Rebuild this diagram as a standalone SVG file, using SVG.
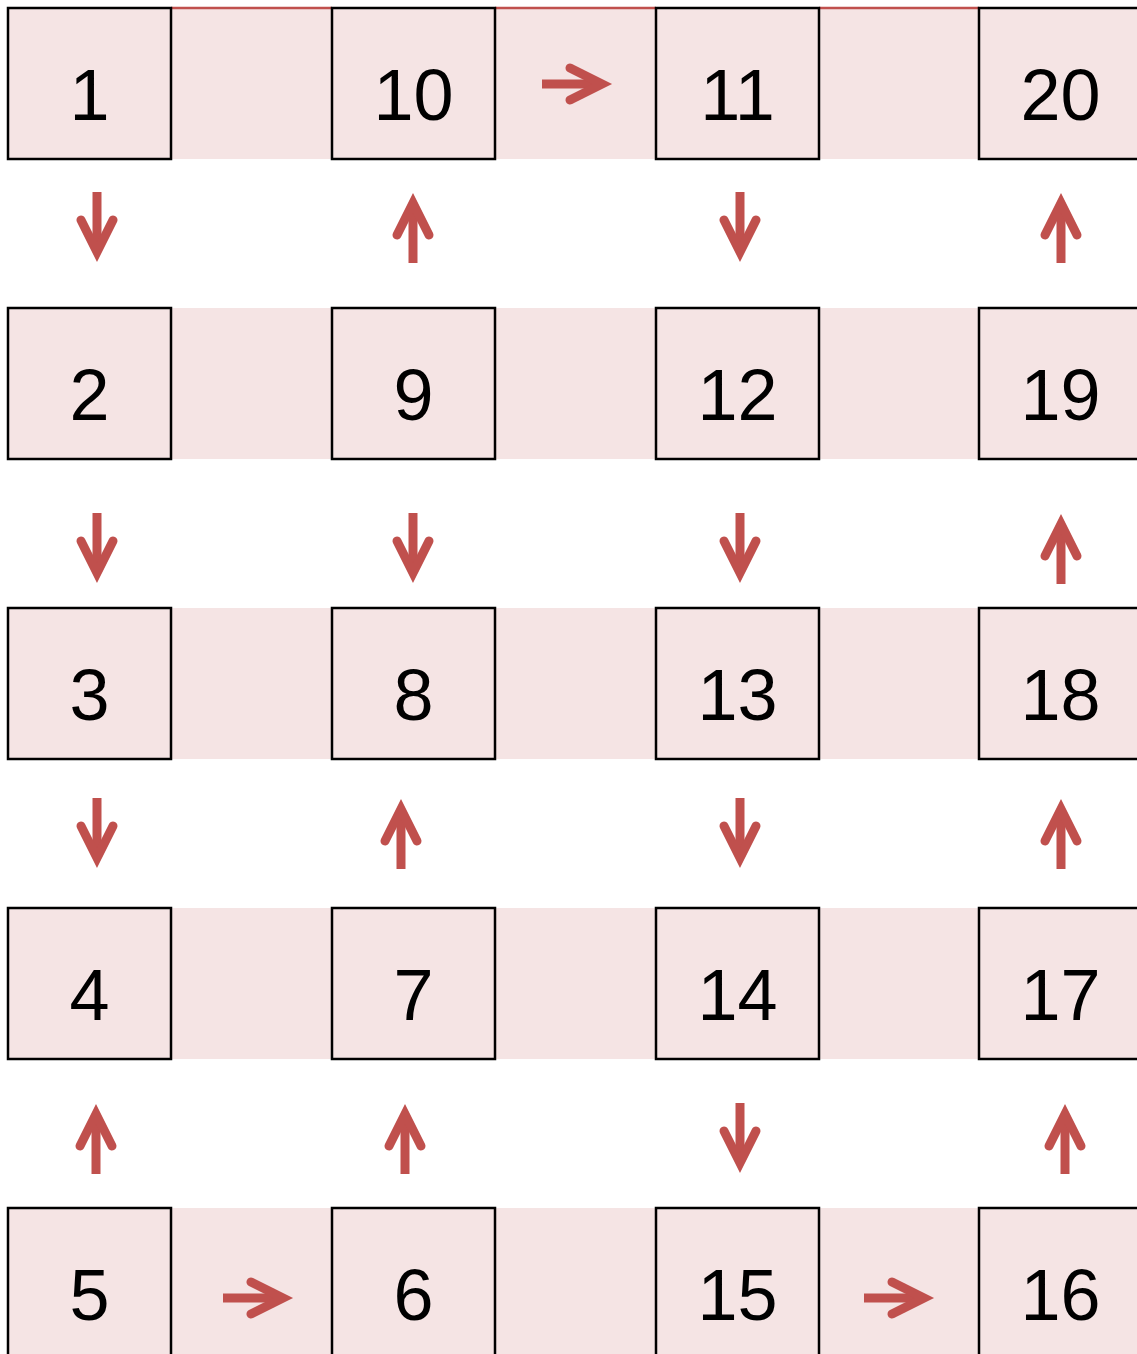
<svg xmlns="http://www.w3.org/2000/svg" xmlns:xlink="http://www.w3.org/1999/xlink" width="1137" height="1354" viewBox="0 0 1137 1354">
<style>
.band{fill:#f5e4e4}
.box{fill:#f5e4e4;stroke:#000;stroke-width:2.5}
.lbl{font-family:"Liberation Sans",Arial,sans-serif;font-size:72px;fill:#000;text-anchor:middle}
.arr{fill:none;stroke:#c0504d;stroke-width:9;stroke-linecap:round;stroke-linejoin:miter}
.top{stroke:#c0504d;stroke-width:2.5}
</style>
<defs>
<g id="ar">
<path class="arr" d="M0 0 H58" style="stroke-linecap:butt"/>
<path class="arr" d="M28 -16 L60 0 L28 16"/>
</g>
</defs>
<rect width="1137" height="1354" fill="#fff"/>
<g id="bands">
<rect class="band" x="8" y="8" width="1129" height="151"/>
<rect class="band" x="8" y="308" width="1129" height="151"/>
<rect class="band" x="8" y="608" width="1129" height="151"/>
<rect class="band" x="8" y="908" width="1129" height="151"/>
<rect class="band" x="8" y="1208" width="1129" height="151"/>
<line class="top" x1="171" y1="8" x2="332" y2="8"/>
<line class="top" x1="495" y1="8" x2="656" y2="8"/>
<line class="top" x1="819" y1="8" x2="979" y2="8"/>
</g>
<g id="n1"><rect class="box" x="8" y="8" width="163" height="151"/><text class="lbl" x="89.5" y="120">1</text></g>
<g id="n10"><rect class="box" x="332" y="8" width="163" height="151"/><text class="lbl" x="413.5" y="120">10</text></g>
<g id="n11"><rect class="box" x="656" y="8" width="163" height="151"/><text class="lbl" x="737.5" y="120">11</text></g>
<g id="n20"><rect class="box" x="979" y="8" width="163" height="151"/><text class="lbl" x="1060.5" y="120">20</text></g>
<g id="n2"><rect class="box" x="8" y="308" width="163" height="151"/><text class="lbl" x="89.5" y="420">2</text></g>
<g id="n9"><rect class="box" x="332" y="308" width="163" height="151"/><text class="lbl" x="413.5" y="420">9</text></g>
<g id="n12"><rect class="box" x="656" y="308" width="163" height="151"/><text class="lbl" x="737.5" y="420">12</text></g>
<g id="n19"><rect class="box" x="979" y="308" width="163" height="151"/><text class="lbl" x="1060.5" y="420">19</text></g>
<g id="n3"><rect class="box" x="8" y="608" width="163" height="151"/><text class="lbl" x="89.5" y="720">3</text></g>
<g id="n8"><rect class="box" x="332" y="608" width="163" height="151"/><text class="lbl" x="413.5" y="720">8</text></g>
<g id="n13"><rect class="box" x="656" y="608" width="163" height="151"/><text class="lbl" x="737.5" y="720">13</text></g>
<g id="n18"><rect class="box" x="979" y="608" width="163" height="151"/><text class="lbl" x="1060.5" y="720">18</text></g>
<g id="n4"><rect class="box" x="8" y="908" width="163" height="151"/><text class="lbl" x="89.5" y="1020">4</text></g>
<g id="n7"><rect class="box" x="332" y="908" width="163" height="151"/><text class="lbl" x="413.5" y="1020">7</text></g>
<g id="n14"><rect class="box" x="656" y="908" width="163" height="151"/><text class="lbl" x="737.5" y="1020">14</text></g>
<g id="n17"><rect class="box" x="979" y="908" width="163" height="151"/><text class="lbl" x="1060.5" y="1020">17</text></g>
<g id="n5"><rect class="box" x="8" y="1208" width="163" height="151"/><text class="lbl" x="89.5" y="1320">5</text></g>
<g id="n6"><rect class="box" x="332" y="1208" width="163" height="151"/><text class="lbl" x="413.5" y="1320">6</text></g>
<g id="n15"><rect class="box" x="656" y="1208" width="163" height="151"/><text class="lbl" x="737.5" y="1320">15</text></g>
<g id="n16"><rect class="box" x="979" y="1208" width="163" height="151"/><text class="lbl" x="1060.5" y="1320">16</text></g>
<g id="connectors">
<use xlink:href="#ar" href="#ar" transform="translate(542,84)"/>
<use xlink:href="#ar" href="#ar" transform="translate(223,1298)"/>
<use xlink:href="#ar" href="#ar" transform="translate(864,1298)"/>
<use xlink:href="#ar" href="#ar" transform="translate(97,192) rotate(90)"/>
<use xlink:href="#ar" href="#ar" transform="translate(413,263) rotate(-90)"/>
<use xlink:href="#ar" href="#ar" transform="translate(740,192) rotate(90)"/>
<use xlink:href="#ar" href="#ar" transform="translate(1061,263) rotate(-90)"/>
<use xlink:href="#ar" href="#ar" transform="translate(97,513) rotate(90)"/>
<use xlink:href="#ar" href="#ar" transform="translate(413,513) rotate(90)"/>
<use xlink:href="#ar" href="#ar" transform="translate(740,513) rotate(90)"/>
<use xlink:href="#ar" href="#ar" transform="translate(1061,584) rotate(-90)"/>
<use xlink:href="#ar" href="#ar" transform="translate(97,798) rotate(90)"/>
<use xlink:href="#ar" href="#ar" transform="translate(401,869) rotate(-90)"/>
<use xlink:href="#ar" href="#ar" transform="translate(740,798) rotate(90)"/>
<use xlink:href="#ar" href="#ar" transform="translate(1061,869) rotate(-90)"/>
<use xlink:href="#ar" href="#ar" transform="translate(96,1174) rotate(-90)"/>
<use xlink:href="#ar" href="#ar" transform="translate(405,1174) rotate(-90)"/>
<use xlink:href="#ar" href="#ar" transform="translate(740,1103) rotate(90)"/>
<use xlink:href="#ar" href="#ar" transform="translate(1065,1174) rotate(-90)"/>
</g>
</svg>
